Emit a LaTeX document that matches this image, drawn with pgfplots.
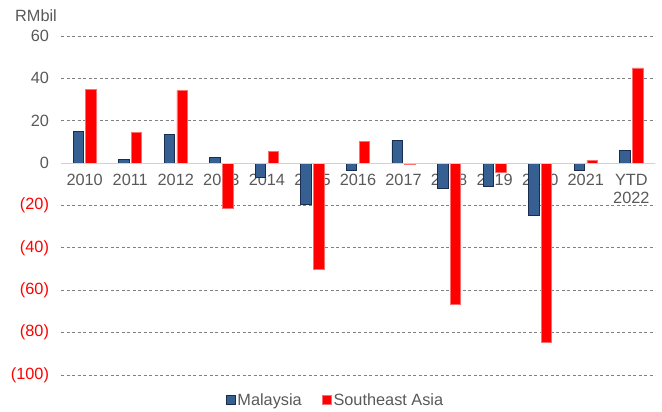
\documentclass[border=0pt]{standalone}
\usepackage{fontspec}
\setmainfont{Liberation Sans}
\usepackage{pgfplots}
\pgfplotsset{compat=1.18}

\definecolor{myBlue}{RGB}{55,96,146}
\definecolor{myBlueEdge}{RGB}{25,45,80}
\definecolor{myRedEdge}{RGB}{255,110,110}
\definecolor{txtGray}{RGB}{89,89,89}
\definecolor{gridGray}{RGB}{128,128,128}
\newcommand{\lbl}{\fontsize{16.3bp}{18bp}\selectfont}

\begin{document}
\begin{tikzpicture}
\useasboundingbox (0,0) rectangle (662bp,412bp);
\begin{axis}[
    at={(61bp,37bp)}, anchor=south west,
    scale only axis, width=594bp, height=339bp,
    xmin=-0.52, xmax=12.52, ymin=-100, ymax=60,
    axis line style={draw=none},
    major tick length=0pt,
    xtick={0,...,12},
    xticklabels={2010,2011,2012,2013,2014,2015,2016,2017,2018,2019,2020,2021,YTD\\2022},
    xticklabel style={font=\lbl, text=txtGray, align=center, yshift=204bp},
    ytick={-100,-80,...,60},
    yticklabels={{\color{red}(100)},{\color{red}(80)},{\color{red}(60)},{\color{red}(40)},{\color{red}(20)},0,20,40,60},
    yticklabel style={font=\lbl, text=txtGray, xshift=-8.5bp},
    ymajorgrids, grid style={gridGray, line width=0.8bp, dash pattern=on 3bp off 2.5bp},
    bar width=0.23,
    legend style={at={(0.462,-0.074)}, anchor=center, draw=none, fill=none,
        legend columns=2, font=\lbl, text=txtGray,
        /tikz/every even column/.append style={column sep=18bp}},
    legend image code/.code={\draw[#1] (0bp,-4.5bp) rectangle (9bp,4.5bp);},
]
\addplot[ybar, bar shift=-0.14, fill=myBlue, draw=myBlueEdge, line width=0.8bp]
    coordinates {(0,14.8) (1,1.7) (2,13.7) (3,2.5) (4,-6.9) (5,-19.7) (6,-3.6)
                 (7,10.5) (8,-12.0) (9,-11.2) (10,-24.9) (11,-3.6) (12,6.1)};
\addplot[ybar, bar shift=0.14, fill=red, draw=myRedEdge, line width=0.8bp]
    coordinates {(0,34.8) (1,14.5) (2,34.3) (3,-21.6) (4,5.7) (5,-50.0) (6,10.1)
                 (7,-0.6) (8,-66.5) (9,-4.6) (10,-84.7) (11,1.3) (12,44.9)};
\legend{Malaysia, Southeast Asia}
\draw[gray!35, line width=1bp] (rel axis cs:0,0.625) -- (rel axis cs:1,0.625);
\end{axis}
\node[text=txtGray, font=\lbl] at (36bp,396bp) {RMbil};
\end{tikzpicture}
\end{document}
